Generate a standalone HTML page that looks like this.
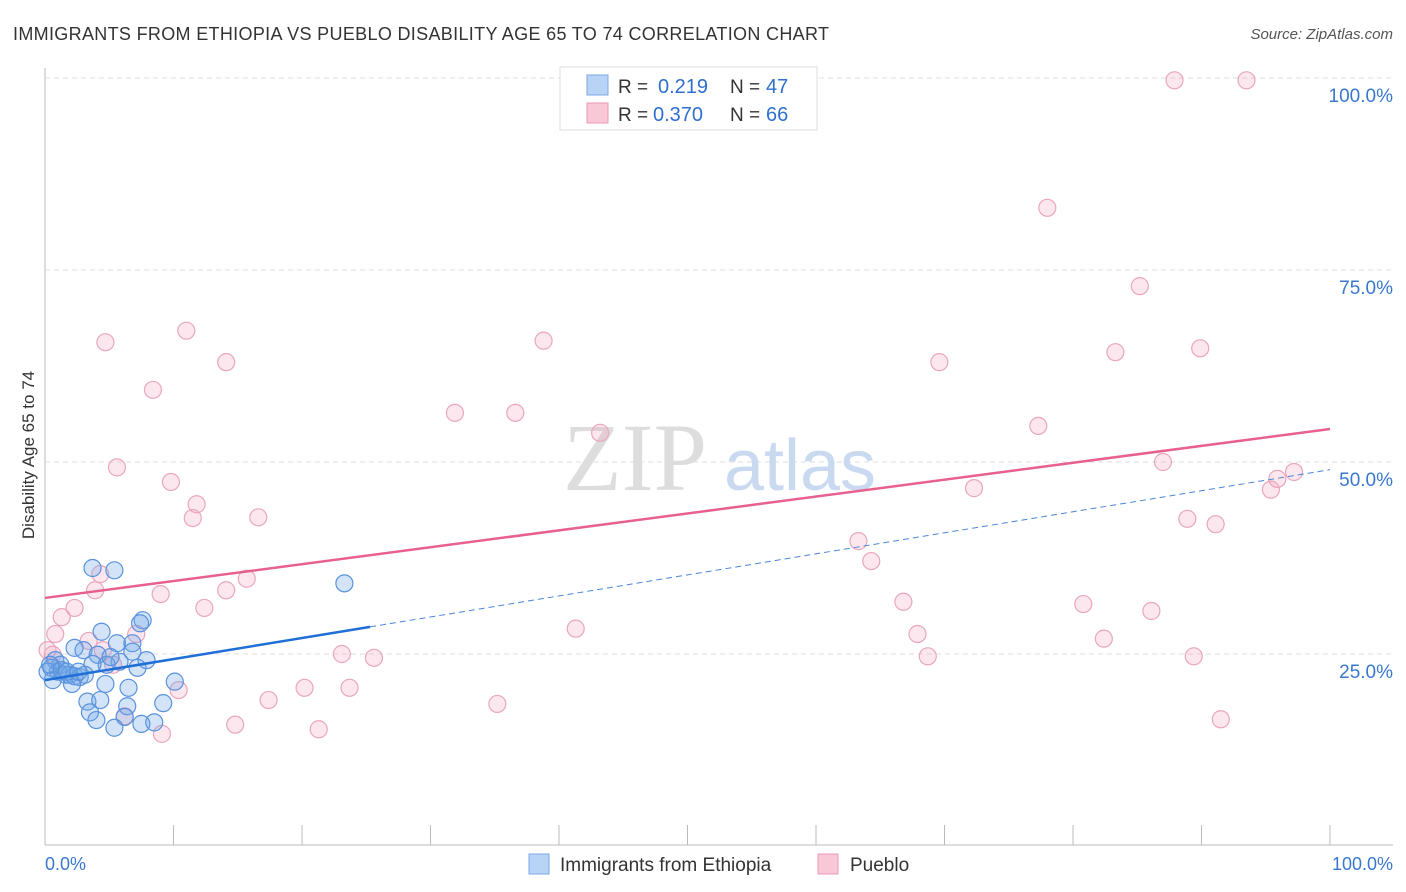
<!DOCTYPE html>
<html><head><meta charset="utf-8">
<style>
body{margin:0;background:#fff;font-family:"Liberation Sans",sans-serif;}
svg{display:block}
</style></head>
<body>
<svg id="chart" width="1406" height="892">
<text x="13" y="40" font-size="18" fill="#333" textLength="816">IMMIGRANTS FROM ETHIOPIA VS PUEBLO DISABILITY AGE 65 TO 74 CORRELATION CHART</text>
<text x="1393" y="39" font-size="15" fill="#555" font-style="italic" text-anchor="end">Source: ZipAtlas.com</text>
<text x="34" y="455" font-size="17" fill="#333" text-anchor="middle" transform="rotate(-90 34 455)">Disability Age 65 to 74</text>
<g id="grid"></g>
<g id="watermark">
<text x="635" y="490" font-size="96" fill="#ddd" font-family="Liberation Serif,serif" text-anchor="middle">ZIP</text>
<text x="800" y="490" font-size="72" fill="#c9daf0" text-anchor="middle">atlas</text>
</g>
<g id="marks"></g>
<g id="lines"></g>
<g>
<rect x="560" y="67" width="257" height="63" fill="#fff" stroke="#ddd"/>
<rect x="587" y="75" width="21" height="20" fill="#b8d3f5" stroke="#7aaae6"/>
<rect x="587" y="103" width="21" height="20" fill="#f8c8d6" stroke="#ea9ab4"/>
<text x="618" y="93" font-size="19" fill="#333">R = </text><text x="658" y="93" font-size="20" fill="#2f6fd0">0.219</text>
<text x="730" y="93" font-size="19" fill="#333">N = </text><text x="766" y="93" font-size="20" fill="#2f6fd0">47</text>
<text x="618" y="121" font-size="19" fill="#333">R = </text><text x="653" y="121" font-size="20" fill="#2f6fd0">0.370</text>
<text x="730" y="121" font-size="19" fill="#333">N = </text><text x="766" y="121" font-size="20" fill="#2f6fd0">66</text>
</g>
<g>
<rect x="529" y="854" width="20" height="20" fill="#b8d3f5" stroke="#7aaae6"/>
<text x="560" y="871" font-size="19" fill="#333">Immigrants from Ethiopia</text>
<rect x="818" y="854" width="20" height="20" fill="#f8c8d6" stroke="#ea9ab4"/>
<text x="850" y="871" font-size="19" fill="#333">Pueblo</text>
</g>
<text x="45" y="870" font-size="18" fill="#3a78d0">0.0%</text>
<text x="1393" y="870" font-size="18" fill="#3a78d0" text-anchor="end">100.0%</text>
</svg>
<script>
const yTicks=[25,50,75,100];
const yTickLabels=["25.0%","50.0%","75.0%","100.0%"];
const xTicks=[0,10,20,30,40,50,60,70,80,90,100];
const blueX=[3.7,5.4,23.3,7.6,7.4,4.4,5.6,6.8,6.8,7.9,2.3,3.0,4.1,5.8,4.8,3.7,0.8,1.2,0.5,1.0,1.6,1.9,2.3,2.7,3.1,0.6,2.1,4.7,6.5,10.1,7.2,3.3,4.3,9.2,6.4,3.5,4.0,6.2,8.5,5.4,7.5,0.2,0.4,1.3,1.7,2.6,5.1];
const blueY=[36.2,35.9,34.2,29.4,29.0,27.9,26.4,26.4,25.3,24.2,25.8,25.5,24.9,24.0,23.6,23.7,24.2,23.6,23.2,22.7,22.3,22.3,22.1,22.0,22.3,21.6,21.1,21.1,20.6,21.4,23.2,18.8,19.0,18.6,18.2,17.4,16.4,16.8,16.1,15.4,15.9,22.7,23.6,22.9,22.7,22.7,24.6];
const pinkX=[45.8,87.9,93.5,78.0,85.2,11.0,4.7,38.8,83.3,89.9,14.1,69.6,8.4,31.9,36.6,77.3,43.2,5.6,87.0,9.8,72.3,97.2,95.9,95.4,11.8,11.5,16.6,88.9,91.1,63.3,64.3,15.7,4.3,3.9,14.1,9.0,2.3,66.8,80.8,86.1,1.3,12.4,41.3,0.8,7.1,67.9,82.4,3.4,4.5,23.1,25.6,68.7,89.4,5.3,10.4,20.2,23.7,17.4,35.2,6.2,14.8,21.3,91.5,9.1,0.2,0.6];
const pinkY=[99.7,99.7,99.7,83.1,72.9,67.1,65.6,65.8,64.3,64.8,63.0,63.0,59.4,56.4,56.4,54.7,53.8,49.3,50.0,47.4,46.6,48.7,47.8,46.4,44.5,42.7,42.8,42.6,41.9,39.7,37.1,34.8,35.4,33.3,33.3,32.8,31.0,31.8,31.5,30.6,29.8,31.0,28.3,27.6,27.6,27.6,27.0,26.7,25.5,25.0,24.5,24.7,24.7,23.6,20.3,20.6,20.6,19.0,18.5,16.9,15.8,15.2,16.5,14.6,25.5,24.9];
const blueTrend=[21.6,49.0];
const blueSolidEnd=25.3;
const pinkTrend=[32.3,54.3];

const NS="http://www.w3.org/2000/svg";
const X0=45,X1=1330,Y0=846,YPER=7.68;
function sx(v){return X0+(X1-X0)*v/100;}
function sy(v){return Y0-v*YPER;}
function mk(tag,attrs,parent){const e=document.createElementNS(NS,tag);for(const k in attrs)e.setAttribute(k,attrs[k]);parent.appendChild(e);return e;}
const grid=document.getElementById('grid'),marks=document.getElementById('marks'),lines=document.getElementById('lines');
let ax=mk('line',{x1:45,y1:68,x2:45,y2:845,stroke:'#bbb'},grid);


let bx=mk('line',{x1:45,y1:845,x2:1393,y2:845,stroke:'#bbb'},grid);


yTicks.forEach((t,i)=>{
  const g=mk('line',{x1:45,x2:1393,y1:sy(t),y2:sy(t),stroke:'#ddd','stroke-dasharray':'5,4'},grid);
  
  
  const l=mk('text',{x:1393,y:sy(t)+24,'font-size':19,fill:'#3a78d0','text-anchor':'end'},grid);
  l.textContent=yTickLabels[i];
  
  
});
xTicks.forEach(t=>{
  const k=mk('line',{x1:sx(t),x2:sx(t),y1:825,y2:845,stroke:'#bbb'},grid);
  
  
});
function pts(xs,ys,fill,stroke,name){
  xs.forEach((x,i)=>{
    const c=mk('circle',{cx:sx(x),cy:sy(ys[i]),r:8.5,fill:fill,stroke:stroke,'stroke-width':1.2},marks);
    
    
  });
}
pts(pinkX,pinkY,'rgba(242,160,188,0.25)','#eaa6bd','pueblo-point');
pts(blueX,blueY,'rgba(110,165,232,0.3)','#5a92dc','ethiopia-point');
function ty(tr,x){return tr[0]+(tr[1]-tr[0])*x/100;}
let p=mk('line',{x1:sx(0),y1:sy(pinkTrend[0]),x2:sx(100),y2:sy(pinkTrend[1]),stroke:'#e8608f','stroke-width':2.5},lines);


let b=mk('line',{x1:sx(0),y1:sy(blueTrend[0]),x2:sx(blueSolidEnd),y2:sy(ty(blueTrend,blueSolidEnd)),stroke:'#1f6fd6','stroke-width':2.5},lines);


let bd=mk('line',{x1:sx(blueSolidEnd),y1:sy(ty(blueTrend,blueSolidEnd)),x2:sx(100),y2:sy(blueTrend[1]),stroke:'#4a86d8','stroke-width':1,'stroke-dasharray':'6,4'},lines);


</script>
</body></html>
